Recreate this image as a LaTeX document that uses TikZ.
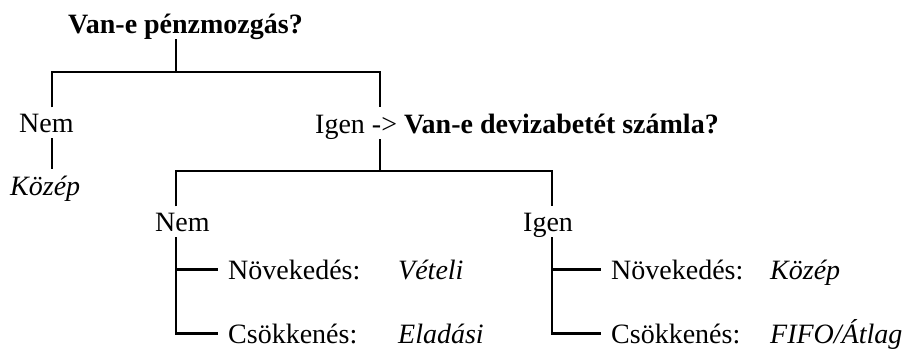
\documentclass[tikz,border=0pt]{standalone}
\usepackage{fontspec}
\setmainfont{Liberation Serif}

\begin{document}
\begin{tikzpicture}[x=1pt, y=-1pt, font=\fontsize{28}{34}\selectfont,
        every node/.style={anchor=base west, inner xsep=0pt, inner ysep=6pt, text depth=0pt},
        leaf/.style={inner xsep=10pt, inner ysep=1pt},
        rate/.style={inner ysep=1pt},
        tree/.style={line width=2.6pt}]
        \useasboundingbox (0,0) rectangle (910,349);

        % Questions and answers
        \node (root)   at (68,33)   {\textbf{Van-e pénzmozgás?}};
        \node (nem1)   at (19,132)  {Nem};
        \node (igen1)  at (315,133) {Igen -> \textbf{Van-e devizabetét számla?}};
        \node (kozep1) at (10,195)  {\textit{Közép}};
        \node (nem2)   at (155,231) {Nem};
        \node (igen2)  at (523,231) {Igen};

        % Leaves: growth / decline
        \node[leaf] (nov1) at (218,279) {Növekedés:};
        \node[leaf] (cso1) at (218,343) {Csökkenés:};
        \node[leaf] (nov2) at (601,279) {Növekedés:};
        \node[leaf] (cso2) at (601,343) {Csökkenés:};

        % Rates
        \node[rate] (vet)  at (398,279) {\textit{Vételi}};
        \node[rate] (ela)  at (398,343) {\textit{Eladási}};
        \node[rate] (koz2) at (770,279) {\textit{Közép}};
        \node[rate] (fifo) at (770,343) {\textit{FIFO/Átlag}};

        % Split points and columns of the tree
        \coordinate (r0) at (176,72);
        \coordinate (r1) at (380,171);
        \coordinate (a0) at (52,0);
        \coordinate (s1) at (176,0);
        \coordinate (s2) at (552,0);

        % First question
        \draw[tree] (root.south -| r0) -- (r0);
        \draw[tree] (a0 |- nem1.north) |- (r0) -| (igen1.north -| r1);
        \draw[tree] (a0 |- nem1.south) -- (a0 |- kozep1.north);

        % Second question
        \draw[tree] (igen1.south -| r1) -- (r1);
        \draw[tree] (s1 |- nem2.north) |- (r1) -| (s2 |- igen2.north);

        % Branches to the leaves
        \draw[tree] (s1 |- nem2.south) |- (cso1.west);
        \draw[tree] (s1 |- nov1.west) -- (nov1.west);
        \draw[tree] (s2 |- igen2.south) |- (cso2.west);
        \draw[tree] (s2 |- nov2.west) -- (nov2.west);
    \end{tikzpicture}
\end{document}
